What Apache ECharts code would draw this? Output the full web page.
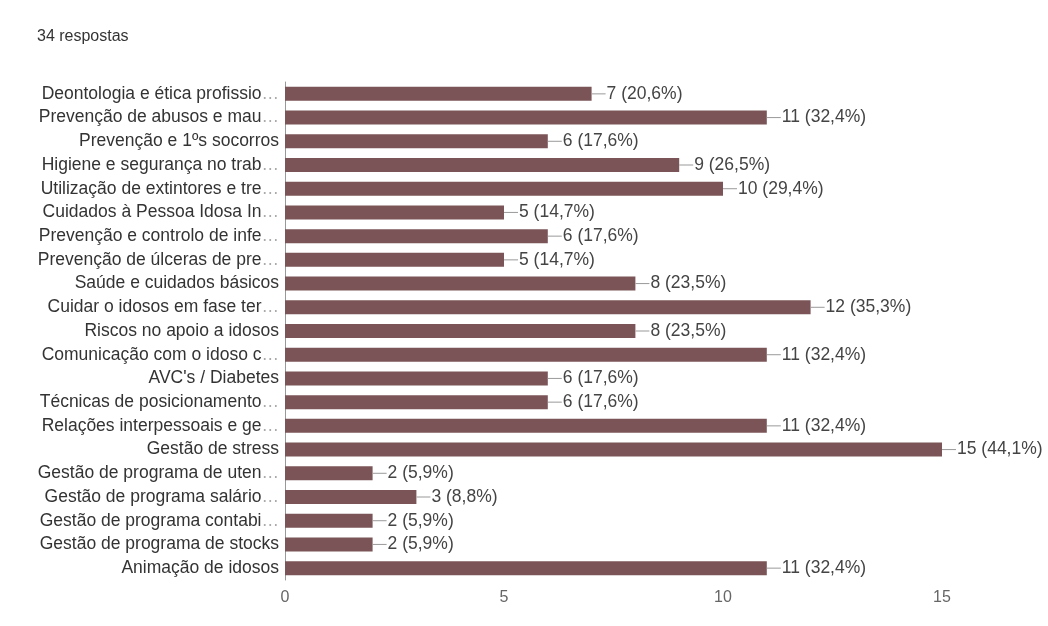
<!DOCTYPE html>
<html><head><meta charset="utf-8">
<script src="https://cdn.jsdelivr.net/npm/echarts@6/dist/echarts.min.js"></script>
<style>html,body{margin:0;padding:0;background:#fff;}#c{width:1048px;height:626px;}</style>
</head><body><div id="c"></div>
<script>
const totalResponses = 34;
const categories = [
  "Deontologia e ética profissio…",
  "Prevenção de abusos e mau…",
  "Prevenção e 1ºs socorros",
  "Higiene e segurança no trab…",
  "Utilização de extintores e tre…",
  "Cuidados à Pessoa Idosa In…",
  "Prevenção e controlo de infe…",
  "Prevenção de úlceras de pre…",
  "Saúde e cuidados básicos",
  "Cuidar o idosos em fase ter…",
  "Riscos no apoio a idosos",
  "Comunicação com o idoso c…",
  "AVC's / Diabetes",
  "Técnicas de posicionamento…",
  "Relações interpessoais e ge…",
  "Gestão de stress",
  "Gestão de programa de uten…",
  "Gestão de programa salário…",
  "Gestão de programa contabi…",
  "Gestão de programa de stocks",
  "Animação de idosos"
];
const counts = [7, 11, 6, 9, 10, 5, 6, 5, 8, 12, 8, 11, 6, 6, 11, 15, 2, 3, 2, 2, 11];
const xTicks = [0, 5, 10, 15];

const FONT = 'Liberation Sans, Arial, sans-serif';
const chart = echarts.init(document.getElementById('c'));
chart.setOption({
  backgroundColor: '#ffffff',
  animation: false,
  title: {
    text: totalResponses + ' respostas',
    left: 32, top: 24,
    textStyle: {fontFamily: FONT, fontSize: 16, fontWeight: 'normal', color: '#333'}
  },
  grid: {left: 285, right: 106, top: 82, bottom: 46},
  xAxis: {
    type: 'value', min: xTicks[0], max: xTicks[xTicks.length - 1], interval: 5,
    axisLine: {show: false}, axisTick: {show: false}, splitLine: {show: false},
    axisLabel: {fontFamily: FONT, fontSize: 16, color: '#666', margin: 10}
  },
  yAxis: {
    type: 'category', data: categories, inverse: true,
    axisLine: {show: true, lineStyle: {color: '#999', width: 1}},
    axisTick: {show: false},
    axisLabel: {
      fontFamily: FONT, fontSize: 17.5, color: '#333', margin: 6,
      formatter: function (v) {
        if (v.endsWith('…')) return v.slice(0, -1) + '{e|…}';
        return v;
      },
      rich: {e: {color: '#aaa', fontFamily: FONT, fontSize: 17.5}}
    }
  },
  series: [{
    type: 'bar',
    data: counts,
    barWidth: 14,
    itemStyle: {color: '#7a5457'},
    label: {
      show: true, position: 'right', distance: 0,
      fontFamily: FONT, fontSize: 17.5, color: '#444',
      formatter: function (p) {
        const pct = (p.value / totalResponses * 100).toFixed(1).replace('.', ',');
        return '{ln|}{t|' + p.value + ' (' + pct + '%)}';
      },
      rich: {
        ln: {width: 14, height: 1, backgroundColor: '#999'},
        t: {fontFamily: FONT, fontSize: 17.5, color: '#444', padding: [0, 0, 0, 1]}
      }
    }
  }]
});
</script></body></html>
